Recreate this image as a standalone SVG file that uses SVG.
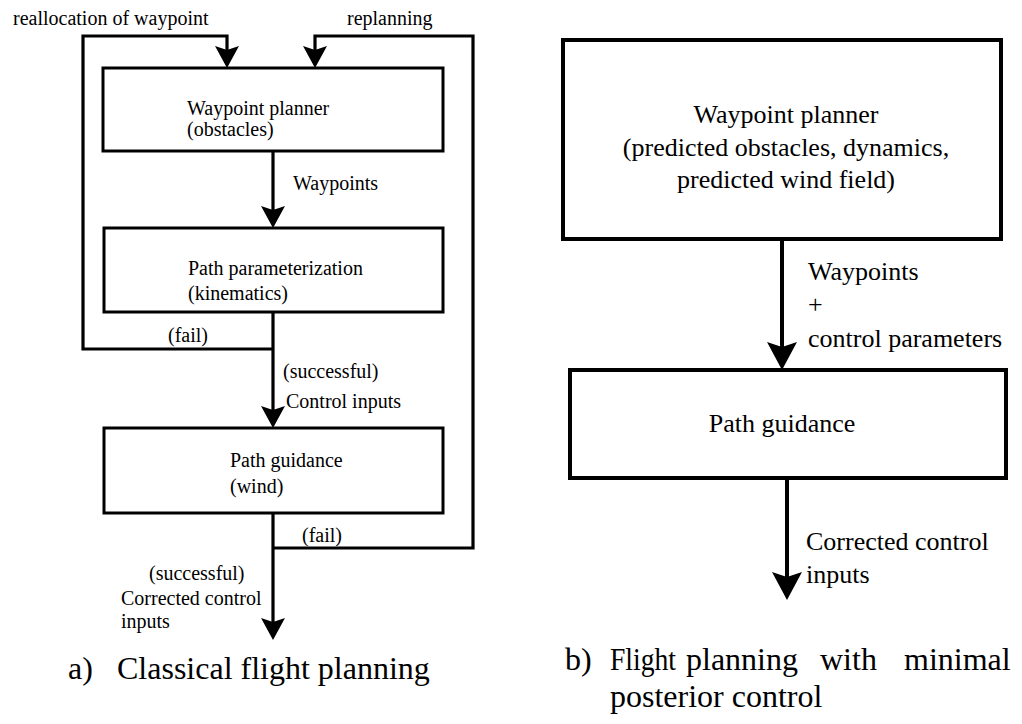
<svg xmlns="http://www.w3.org/2000/svg" width="1022" height="724" viewBox="0 0 1022 724">
  <style>
    .box { fill: #fff; stroke: #000; stroke-width: 3; }
    .boxb { fill: #fff; stroke: #000; stroke-width: 4; }
    .wire { fill: none; stroke: #000; stroke-width: 3.2; }
    .wireb { fill: none; stroke: #000; stroke-width: 4; }
    text { font-family: 'Liberation Serif', 'DejaVu Serif', serif; fill: #000; }
    .s { font-size: 20px; }
    .m { font-size: 26px; }
    .c { font-size: 32px; }
    .mid { text-anchor: middle; }
  </style>
  <defs>
    <marker id="arrA" markerUnits="userSpaceOnUse" viewBox="0 0 22 24" markerWidth="22" markerHeight="24" refX="14" refY="12" orient="auto">
      <path d="M0,0 L22,12 L0,24 L4,12 Z" fill="#000"/>
    </marker>
    <marker id="arrB" markerUnits="userSpaceOnUse" viewBox="0 0 28 30" markerWidth="28" markerHeight="30" refX="18" refY="15" orient="auto">
      <path d="M0,0 L28,15 L0,30 L5,15 Z" fill="#000"/>
    </marker>
  </defs>

  <rect width="1022" height="724" fill="#fff"/>

  <g font-family="'Liberation Serif', 'DejaVu Serif', serif">
  <!-- a) classical flight planning -->
  <g id="connectors-a">
    <path class="wire" d="M273,349 H83 V36 H227 V60" marker-end="url(#arrA)"/>
    <path class="wire" d="M273,548 H473 V36 H315 V60" marker-end="url(#arrA)"/>
    <path class="wire" d="M273,151 V220" marker-end="url(#arrA)"/>
    <path class="wire" d="M273,312 V420" marker-end="url(#arrA)"/>
    <path class="wire" d="M273,513 V632" marker-end="url(#arrA)"/>
  </g>

  <g id="waypoint-planner-a">
    <rect class="box" x="103" y="68" width="340" height="83"/>
    <text class="s" x="187" y="115">Waypoint planner</text>
    <text class="s" x="187" y="136">(obstacles)</text>
  </g>
  <g id="path-parameterization">
    <rect class="box" x="104" y="228" width="339" height="84"/>
    <text class="s" x="188" y="275">Path parameterization</text>
    <text class="s" x="188" y="300">(kinematics)</text>
  </g>
  <g id="path-guidance-a">
    <rect class="box" x="104" y="428" width="339" height="85"/>
    <text class="s" x="230" y="467">Path guidance</text>
    <text class="s" x="230" y="493">(wind)</text>
  </g>

  <g id="labels-a">
    <text class="s" x="13" y="25">reallocation of waypoint</text>
    <text class="s" x="347" y="25">replanning</text>
    <text class="s" x="293" y="190">Waypoints</text>
    <text class="s" x="168" y="342">(fail)</text>
    <text class="s" x="283" y="378">(successful)</text>
    <text class="s" x="286" y="408">Control inputs</text>
    <text class="s" x="302" y="542">(fail)</text>
    <text class="s" x="149" y="580">(successful)</text>
    <text class="s" x="121" y="605">Corrected control</text>
    <text class="s" x="121" y="628">inputs</text>
  </g>

  <!-- b) planning with minimal posterior control -->
  <g id="connectors-b">
    <path class="wireb" d="M782,239 V360" marker-end="url(#arrB)"/>
    <path class="wireb" d="M787,478 V590" marker-end="url(#arrB)"/>
  </g>

  <g id="waypoint-planner-b">
    <rect class="boxb" x="563" y="40" width="438" height="199"/>
    <text class="m mid" x="786" y="123">Waypoint planner</text>
    <text class="m mid" x="786" y="156">(predicted obstacles, dynamics,</text>
    <text class="m mid" x="786" y="188">predicted wind field)</text>
  </g>
  <g id="path-guidance-b">
    <rect class="boxb" x="570" y="370" width="436" height="108"/>
    <text class="m mid" x="782" y="432">Path guidance</text>
  </g>

  <g id="labels-b">
    <text class="m" x="808" y="280">Waypoints</text>
    <text class="m" x="808" y="313">+</text>
    <text class="m" x="808" y="347">control parameters</text>
    <text class="m" x="806" y="550">Corrected control</text>
    <text class="m" x="806" y="583">inputs</text>
  </g>

  <!-- captions; the first line of b) is spread to the full column width -->
  <g id="captions">
    <text class="c" x="68" y="679">a)</text>
    <text class="c" x="117" y="679">Classical flight planning</text>
    <text class="c" x="565" y="670">b)</text>
    <text class="c" x="610" y="670" textLength="66" lengthAdjust="spacingAndGlyphs">Flight</text>
    <text class="c" x="686" y="670">planning</text>
    <text class="c" x="820" y="670">with</text>
    <text class="c" x="904" y="670">minimal</text>
    <text class="c" x="610" y="707">posterior control</text>
  </g>
  </g>
</svg>
